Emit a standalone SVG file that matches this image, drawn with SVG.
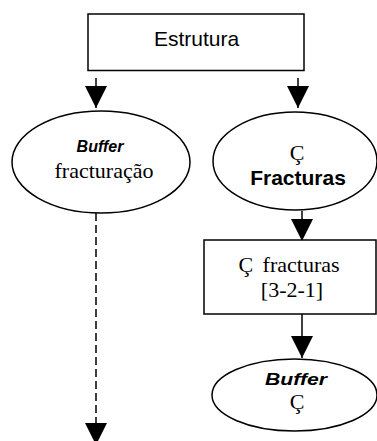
<svg xmlns="http://www.w3.org/2000/svg" width="377" height="441" viewBox="0 0 377 441">
<style>
.shape{fill:#fff;stroke:#000;stroke-width:1.5}
.sans{font-family:"Liberation Sans",Arial,sans-serif;fill:#000}
.serif{font-family:"Liberation Serif","Times New Roman",serif;fill:#000}
.conn{stroke:#000;stroke-width:1.5;fill:none}
</style>
<defs>
<marker id="ah" viewBox="0 0 22 22" refX="22" refY="11" markerWidth="22" markerHeight="22" markerUnits="userSpaceOnUse" orient="auto">
<path d="M0,0 L22,11 L0,22 Z" fill="#000"/>
</marker>
</defs>
<rect width="377" height="441" fill="#fff"/>
<g id="connectors">
<line class="conn" x1="96" y1="78" x2="96" y2="108" marker-end="url(#ah)"/>
<line class="conn" x1="298" y1="78" x2="298" y2="108" marker-end="url(#ah)"/>
<line class="conn" x1="302" y1="211" x2="302" y2="241" marker-end="url(#ah)"/>
<line class="conn" x1="302" y1="314" x2="302" y2="358" marker-end="url(#ah)"/>
<line class="conn" x1="96" y1="213" x2="96" y2="445" stroke-dasharray="8 4" marker-end="url(#ah)"/>
</g>
<g id="estrutura">
<rect class="shape" x="88" y="14" width="216" height="56.5"/>
<text class="sans" x="196.5" y="45.5" font-size="21" text-anchor="middle">Estrutura</text>
</g>
<g id="buffer-fracturacao">
<ellipse class="shape" cx="101" cy="162" rx="89" ry="51"/>
<text class="sans" x="100" y="152" font-size="16" font-weight="bold" font-style="italic" text-anchor="middle">Buffer</text>
<text class="serif" x="104" y="178" font-size="22" text-anchor="middle">fracturação</text>
</g>
<g id="fracturas">
<ellipse class="shape" cx="295" cy="161" rx="82" ry="49"/>
<text class="serif" x="297" y="160" font-size="22" text-anchor="middle">Ç</text>
<text class="sans" x="298" y="185" font-size="21" font-weight="bold" text-anchor="middle">Fracturas</text>
</g>
<g id="c-fracturas">
<rect class="shape" x="204" y="240" width="172" height="74"/>
<text class="serif" x="289" y="272" font-size="22" text-anchor="middle" word-spacing="4">Ç fracturas</text>
<text class="serif" x="292" y="297" font-size="22" text-anchor="middle">[3-2-1]</text>
</g>
<g id="buffer-c">
<ellipse class="shape" cx="294.5" cy="395" rx="82.5" ry="36"/>
<text class="sans" x="296" y="385" font-size="16" font-weight="bold" font-style="italic" text-anchor="middle" textLength="62" lengthAdjust="spacingAndGlyphs">Buffer</text>
<text class="serif" x="297" y="409" font-size="22" text-anchor="middle">Ç</text>
</g>
</svg>
